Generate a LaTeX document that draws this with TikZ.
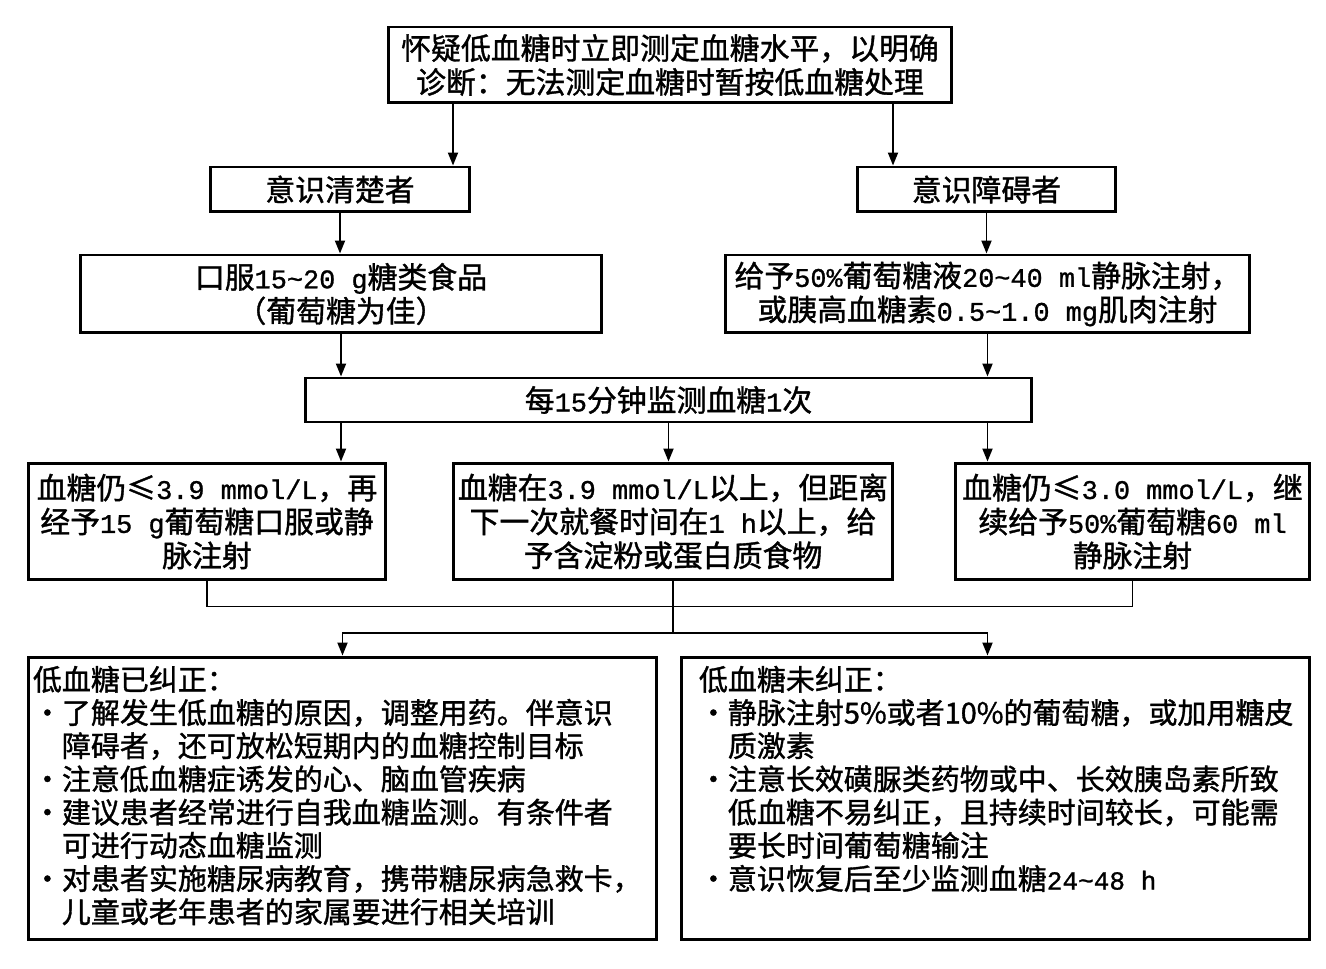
\documentclass[tikz,border=0pt]{standalone}
\usepackage{fontspec}
\setmainfont{Noto Sans CJK SC}[FakeBold=1.2]
\newfontfamily\latfont{Liberation Mono}[Scale=0.9, FakeBold=1]
\newcommand{\lat}[1]{{\latfont #1}}
\newcommand{\itm}{\makebox[1em][c]{•}}
\newcommand{\ind}{\hspace*{1em}}
\usetikzlibrary{arrows.meta}
\tikzset{
  box/.style={draw, line width=1.7pt, align=center, inner sep=0pt},
  arr/.style={-{Triangle[length=0.26cm,width=0.2cm]}, line width=1.1pt},
  link/.style={line width=1.1pt},
  listtext/.style={align=left, inner xsep=0.12cm, inner ysep=0.2cm, anchor=north west,
    font=\fontsize{16.5pt}{18.9pt}\selectfont},
}
\begin{document}
\begin{tikzpicture}[x=0.02cm, y=-0.02cm, font=\fontsize{17pt}{19.3pt}\selectfont]
  \useasboundingbox (0,0) rectangle (1326,969);

  % Boxes
  \node[box, minimum width=11.28cm, minimum height=1.52cm] (top) at (670,65)
    {怀疑低血糖时立即测定血糖水平，以明确\\诊断：无法测定血糖时暂按低血糖处理};

  \node[box, minimum width=5.2cm, minimum height=0.9cm] (clear) at (340,189.5) {意识清楚者};
  \node[box, minimum width=5.18cm, minimum height=0.9cm] (coma) at (986.5,189.5) {意识障碍者};

  \node[box, minimum width=10.44cm, minimum height=1.56cm] (oral) at (341,294)
    {口服\lat{15\textasciitilde20 g}糖类食品\\（葡萄糖为佳）};
  \node[box, minimum width=10.5cm, minimum height=1.56cm] (iv) at (987.5,294)
    {给予\lat{50\%}葡萄糖液\lat{20\textasciitilde40 ml}静脉注射，\\或胰高血糖素\lat{0.5\textasciitilde1.0 mg}肌肉注射};

  \node[box, minimum width=14.54cm, minimum height=0.88cm] (monitor) at (668.5,400)
    {每\lat{15}分钟监测血糖\lat{1}次};

  \node[box, minimum width=7.16cm, minimum height=2.34cm] (lowA) at (207,521.5)
    {血糖仍≤\lat{3.9 mmol/L}，再\\经予\lat{15 g}葡萄糖口服或静\\脉注射};
  \node[box, minimum width=8.8cm, minimum height=2.34cm] (mid) at (673,521.5)
    {血糖在\lat{3.9 mmol/L}以上，但距离\\下一次就餐时间在\lat{1 h}以上，给\\予含淀粉或蛋白质食物};
  \node[box, minimum width=7.1cm, minimum height=2.34cm] (lowB) at (1132.5,521.5)
    {血糖仍≤\lat{3.0 mmol/L}，继\\续给予\lat{50\%}葡萄糖\lat{60 ml}\\静脉注射};

  \node[box, minimum width=12.58cm, minimum height=5.66cm] (ok) at (342.5,798.5) {};
  \node[box, minimum width=12.58cm, minimum height=5.66cm] (notok) at (995.5,798.5) {};

  % List texts
  \node[listtext] (oktxt) at (ok.north west)
    {低血糖已纠正：\\
     \itm 了解发生低血糖的原因，调整用药。伴意识\\
     \ind 障碍者，还可放松短期内的血糖控制目标\\
     \itm 注意低血糖症诱发的心、脑血管疾病\\
     \itm 建议患者经常进行自我血糖监测。有条件者\\
     \ind 可进行动态血糖监测\\
     \itm 对患者实施糖尿病教育，携带糖尿病急救卡，\\
     \ind 儿童或老年患者的家属要进行相关培训};
  \node[listtext] (notoktxt) at ([xshift=0.26cm]notok.north west)
    {低血糖未纠正：\\
     \itm 静脉注射5\%或者10\%的葡萄糖，或加用糖皮\\
     \ind 质激素\\
     \itm 注意长效磺脲类药物或中、长效胰岛素所致\\
     \ind 低血糖不易纠正，且持续时间较长，可能需\\
     \ind 要长时间葡萄糖输注\\
     \itm 意识恢复后至少监测血糖\lat{24\textasciitilde48 h}};

  % Arrows
  \draw[arr] (top.south -| 453,0) -- (clear.north -| 453,0);
  \draw[arr] (top.south -| 893,0) -- (coma.north -| 893,0);
  \draw[arr] (clear.south) -- (clear.south |- oral.north);
  \draw[arr] (coma.south) -- (coma.south |- iv.north);
  \draw[arr] (oral.south) -- (oral.south |- monitor.north);
  \draw[arr] (iv.south) -- (iv.south |- monitor.north);
  \draw[arr] (monitor.south -| oral.south) -- (lowA.north -| oral.south);
  \draw[arr] (monitor.south) -- (monitor.south |- mid.north);
  \draw[arr] (monitor.south -| iv.south) -- (lowB.north -| iv.south);

  % Merge
  \coordinate (split) at (mid.south |- 0,633);
  \draw[link] (lowA.south) -- ++(0,25) -| (lowB.south);
  \draw[link] (mid.south) -- (split);
  \draw[arr] (split) -| (ok.north);
  \draw[arr] (split) -| (notok.north -| iv.south);
\end{tikzpicture}
\end{document}
